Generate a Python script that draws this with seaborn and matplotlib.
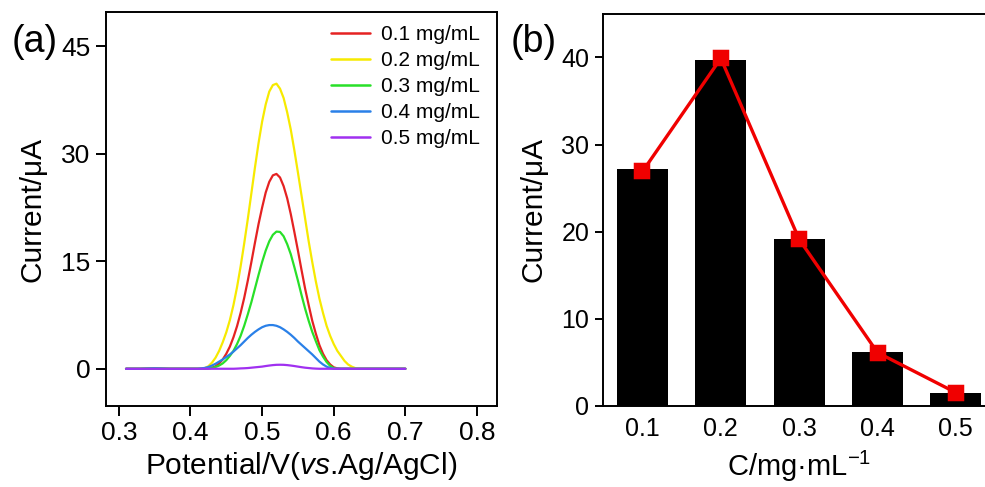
import numpy as np
import pandas as pd
import matplotlib
matplotlib.use("Agg")
import matplotlib.pyplot as plt
import seaborn as sns

# ---------------- data ----------------
potential = [0.31, 0.33, 0.35, 0.37, 0.39, 0.41,
             0.415, 0.42, 0.425, 0.43, 0.435, 0.44, 0.445, 0.45, 0.455, 0.46,
             0.465, 0.47, 0.475, 0.48, 0.485, 0.49, 0.495, 0.50, 0.505, 0.51,
             0.515, 0.52, 0.525, 0.53, 0.535, 0.54, 0.545, 0.55, 0.555, 0.56,
             0.565, 0.57, 0.575, 0.58, 0.585, 0.59, 0.595, 0.60, 0.605, 0.61,
             0.615, 0.62, 0.625, 0.63, 0.635,
             0.64, 0.66, 0.68, 0.70]

cur_01 = [0, 0, 0.05, 0, 0, 0,
          0, 0, 0.05, 0.15, 0.35, 0.75, 1.3, 2.1, 3.1, 4.4,
          5.95, 7.8, 9.9, 12.3, 14.9, 17.6, 20.2, 22.5, 24.6, 26.1,
          27.0, 27.2, 26.7, 25.5, 23.8, 21.6, 19.1, 16.5, 13.8, 11.2,
          8.9, 6.7, 4.9, 3.3, 2.1, 1.2, 0.6, 0.2, 0.05, 0,
          0, 0, 0, 0, 0,
          0, 0, 0, 0]
cur_02 = [0, 0, 0.05, 0, 0, 0,
          0, 0.1, 0.35, 0.85, 1.55, 2.5, 3.7, 5.1, 6.8, 8.9,
          11.4, 14.3, 17.5, 20.9, 24.5, 28.1, 31.5, 34.5, 36.9, 38.7,
          39.6, 39.8, 39.1, 37.8, 35.8, 33.4, 30.5, 27.4, 24.2, 21.0,
          17.8, 14.9, 12.2, 9.8, 7.8, 6.0, 4.6, 3.45, 2.5, 1.8,
          1.1, 0.6, 0.3, 0.1, 0,
          0, 0, 0, 0]
cur_03 = [0, 0, 0.05, 0, 0, 0,
          0, 0, 0.05, 0.12, 0.25, 0.45, 0.75, 1.2, 1.8, 2.5,
          3.45, 4.6, 6.0, 7.6, 9.3, 11.2, 13.1, 14.9, 16.5, 17.8,
          18.7, 19.15, 19.1, 18.5, 17.4, 16.0, 14.2, 12.3, 10.3, 8.4,
          6.7, 5.15, 3.85, 2.6, 1.7, 0.95, 0.4, 0.1, 0, 0,
          0, 0, 0, 0, 0,
          0, 0, 0, 0]
cur_04 = [0, 0, 0.05, 0, 0, 0,
          0.05, 0.12, 0.25, 0.45, 0.7, 1.0, 1.3, 1.65, 2.0, 2.4,
          2.85, 3.3, 3.8, 4.3, 4.75, 5.15, 5.5, 5.8, 6.0, 6.1,
          6.1, 6.0, 5.8, 5.5, 5.15, 4.75, 4.3, 3.8, 3.35, 2.9,
          2.45, 2.0, 1.5, 1.0, 0.6, 0.3, 0.1, 0, 0, 0,
          0, 0, 0, 0, 0,
          0, 0, 0, 0]
cur_05 = [0, 0, 0, 0, 0, 0,
          0, 0, 0, 0, 0, 0, 0, 0, 0, 0,
          0.02, 0.05, 0.07, 0.1, 0.15, 0.2, 0.25, 0.3, 0.38, 0.45,
          0.51, 0.55, 0.56, 0.55, 0.51, 0.45, 0.38, 0.3, 0.22, 0.15,
          0.1, 0.05, 0.02, 0, 0, 0, 0, 0, 0, 0,
          0, 0, 0, 0, 0,
          0, 0, 0, 0]

conc_labels = ["0.1 mg/mL", "0.2 mg/mL", "0.3 mg/mL", "0.4 mg/mL", "0.5 mg/mL"]
line_colors = ["#e52222", "#f7ea00", "#28e028", "#2a80e8", "#a030f0"]

bar_conc = ["0.1", "0.2", "0.3", "0.4", "0.5"]
bar_current = [27.2, 39.7, 19.2, 6.2, 1.5]
line_current = [26.9, 39.9, 19.1, 6.1, 1.5]

x_ticks_a = [0.3, 0.4, 0.5, 0.6, 0.7, 0.8]
y_ticks_a = [0, 15, 30, 45]
y_ticks_b = [0, 10, 20, 30, 40]

# ---------------- style ----------------
sns.set_theme(style="white")
plt.rcParams["font.family"] = ["Liberation Sans", "DejaVu Sans"]
plt.rcParams["mathtext.fontset"] = "custom"
plt.rcParams["mathtext.rm"] = "Liberation Sans"
plt.rcParams["mathtext.it"] = "Liberation Sans:italic"
plt.rcParams["mathtext.default"] = "regular"
plt.rcParams["text.color"] = "black"
plt.rcParams["legend.labelcolor"] = "black"

fig = plt.figure(figsize=(9.85, 4.87), dpi=100)
ax1 = fig.add_axes([0.1076, 0.1663, 0.397, 0.809])
ax2 = fig.add_axes([0.6125, 0.167, 0.3977, 0.8044])

# ---------------- panel (a) ----------------
series = [cur_01, cur_02, cur_03, cur_04, cur_05]
rows = []
for lab, vals in zip(conc_labels, series):
    for e, i in zip(potential, vals):
        rows.append({"E": e, "I": i, "conc": lab})
df_a = pd.DataFrame(rows)

sns.lineplot(data=df_a, x="E", y="I", hue="conc", hue_order=conc_labels,
             palette=dict(zip(conc_labels, line_colors)), estimator=None,
             sort=False, linewidth=1.6, ax=ax1)

ax1.set_xlim(0.282, 0.828)
ax1.set_ylim(-5.2, 49.8)
ax1.set_xticks(x_ticks_a)
ax1.set_xticklabels([f"{v:.1f}" for v in x_ticks_a])
ax1.set_yticks(y_ticks_a)
ax1.set_xlabel(r"Potential/V($\mathit{vs}$.Ag/AgCl)", fontsize=21.5, color="black")
ax1.set_ylabel("Current/μA", fontsize=21.5, color="black")
ax1.xaxis.set_label_coords(0.5, -0.112)
ax1.yaxis.set_label_coords(-0.152, 0.5)

handles, labels = ax1.get_legend_handles_labels()
leg = ax1.legend(handles, labels, loc="upper right", bbox_to_anchor=(0.985, 0.995),
                 frameon=False, fontsize=15, handlelength=1.9, handletextpad=0.5,
                 labelspacing=0.33, borderaxespad=0.15)
for h in leg.get_lines():
    h.set_linewidth(1.8)
for t in leg.get_texts():
    t.set_color("black")

for sp in ax1.spines.values():
    sp.set_color("black")
    sp.set_linewidth(1.4)
ax1.tick_params(axis="both", which="both", direction="out", length=7, width=1.4,
                colors="black", labelsize=19, left=True, bottom=True,
                top=False, right=False, pad=4)

# ---------------- panel (b) ----------------
df_b = pd.DataFrame({"C": bar_conc, "bar": bar_current, "pt": line_current})
sns.barplot(data=df_b, x="C", y="bar", order=bar_conc, color="black",
            saturation=1, width=0.65, edgecolor="black", linewidth=0, ax=ax2)
sns.pointplot(data=df_b, x="C", y="pt", order=bar_conc, color="#f00000",
              markers="s", markersize=10, linewidth=2.4, ax=ax2)

ax2.set_xlim(-0.5, 4.5)
ax2.set_ylim(0, 45)
ax2.set_yticks(y_ticks_b)
ax2.set_xlabel(r"C/mg·mL$^{-1}$", fontsize=21, color="black")
ax2.set_ylabel("Current/μA", fontsize=21.5, color="black")
ax2.xaxis.set_label_coords(0.5, -0.11)
ax2.yaxis.set_label_coords(-0.142, 0.5)

for sp in ax2.spines.values():
    sp.set_color("black")
    sp.set_linewidth(1.4)
ax2.tick_params(axis="y", direction="out", length=6, width=1.4, colors="black",
                labelsize=18, left=True, right=False, pad=4)
ax2.tick_params(axis="x", length=0, colors="black", labelsize=18, pad=8)

# ---------------- panel letters ----------------
fig.text(12 / 985, 1 - 42 / 487, "(a)", fontsize=27, ha="left", va="center", color="black")
fig.text(511 / 985, 1 - 42 / 487, "(b)", fontsize=27, ha="left", va="center", color="black")

fig.savefig("out.png", dpi=100)
